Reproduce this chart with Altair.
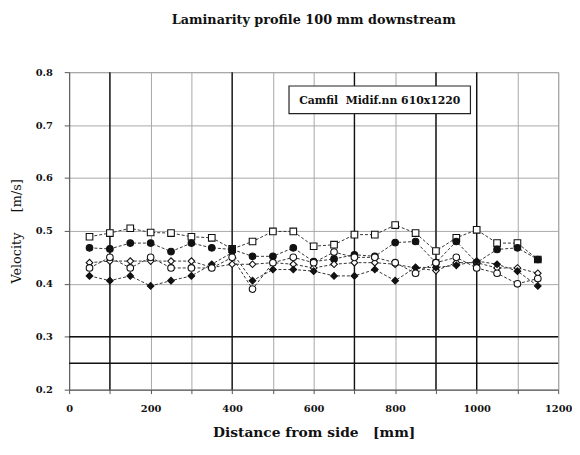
import altair as alt
import pandas as pd

distance = [50, 100, 150, 200, 250, 300, 350, 400, 450, 500, 550, 600,
            650, 700, 750, 800, 850, 900, 950, 1000, 1050, 1100, 1150]

series_squares = [0.489, 0.496, 0.505, 0.497, 0.496, 0.489, 0.487, 0.466, 0.480, 0.499, 0.499, 0.471,
                  0.474, 0.493, 0.493, 0.511, 0.496, 0.462, 0.487, 0.502, 0.477, 0.477, 0.446]
series_dots = [0.468, 0.466, 0.477, 0.477, 0.461, 0.477, 0.468, 0.465, 0.452, 0.452, 0.468, 0.442,
               0.447, 0.455, 0.452, 0.478, 0.480, 0.440, 0.480, 0.440, 0.465, 0.468, 0.446]
series_diamonds = [0.440, 0.443, 0.443, 0.443, 0.443, 0.443, 0.431, 0.437, 0.437, 0.440, 0.437, 0.430,
                   0.437, 0.440, 0.440, 0.437, 0.430, 0.425, 0.440, 0.440, 0.430, 0.430, 0.420]
series_lowdots = [0.415, 0.406, 0.415, 0.396, 0.406, 0.415, 0.437, 0.459, 0.406, 0.427, 0.427, 0.424,
                  0.415, 0.415, 0.427, 0.406, 0.431, 0.431, 0.435, 0.443, 0.437, 0.424, 0.396]
series_rings = [0.430, 0.450, 0.430, 0.450, 0.430, 0.430, 0.430, 0.450, 0.390, 0.440, 0.450, 0.440,
                0.460, 0.450, 0.450, 0.440, 0.420, 0.440, 0.450, 0.430, 0.420, 0.400, 0.410]

series_names = ["s1", "s2", "s3", "s4", "s5"]
series_values = [series_squares, series_dots, series_diamonds, series_lowdots, series_rings]

dark_grid_x = [100, 400, 700, 900, 1000]
dark_grid_y = [0.25, 0.3]

NB = "\u00a0"
legend_text = "Camfil" + NB + NB + "Midif.nn 610x1220"
title_text = "Laminarity profile 100 mm downstream"
x_title = "Distance from side" + NB * 3 + "[mm]"
y_title = "Velocity" + NB * 5 + "[m/s]"

rows = []
for name, vals in zip(series_names, series_values):
    for d, v in zip(distance, vals):
        rows.append({"series": name, "distance": d, "velocity": v})
df = pd.DataFrame(rows)

styles = {
    "s1": ("square", False),
    "s2": ("circle", True),
    "s3": ("diamond", False),
    "s4": ("diamond", True),
    "s5": ("circle", False),
}

FONT = "DejaVu Serif"

xscale = alt.Scale(domain=[0, 1200], nice=False, zero=False)
yscale = alt.Scale(domain=[0.2, 0.8], nice=False, zero=False)

xaxis = alt.Axis(values=list(range(0, 1201, 100)),
                 labelExpr="datum.value % 200 == 0 ? datum.label : ''",
                 format="d", title=x_title, labelOverlap=False, labelFlush=False,
                 grid=True, gridColor="#a8a8a8", gridWidth=1,
                 domainColor="#555", tickColor="#555", tickSize=4,
                 labelPadding=10, titlePadding=12, titleFontSize=14)
yaxis = alt.Axis(values=[0.2, 0.25, 0.3, 0.35, 0.4, 0.45, 0.5, 0.55, 0.6, 0.65, 0.7, 0.75, 0.8],
                 labelExpr="round(datum.value*100) % 10 == 0 ? format(datum.value, '.1f') : ''",
                 title=y_title, labelOverlap=False,
                 grid=True, gridColor="#a8a8a8", gridWidth=1,
                 domainColor="#555", tickColor="#555", tickSize=5,
                 labelPadding=12, titlePadding=12, titleFontSize=13, titleFontWeight="normal")

base_grid = alt.Chart(df).mark_point(opacity=0).encode(
    x=alt.X("distance:Q", scale=xscale, axis=xaxis),
    y=alt.Y("velocity:Q", scale=yscale, axis=yaxis),
)

dark_x = alt.Chart(pd.DataFrame({"gx": dark_grid_x})).mark_rule(color="#111", strokeWidth=1.4).encode(
    x=alt.X("gx:Q", scale=xscale)
)
dark_y = alt.Chart(pd.DataFrame({"gy": dark_grid_y})).mark_rule(color="#111", strokeWidth=1.4).encode(
    y=alt.Y("gy:Q", scale=yscale)
)

layers = [base_grid, dark_x, dark_y]
for name in series_names:
    shape, filled = styles[name]
    sub = df[df.series == name]
    line = alt.Chart(sub).mark_line(color="#333", strokeDash=[3, 2], strokeWidth=1).encode(
        x=alt.X("distance:Q", scale=xscale),
        y=alt.Y("velocity:Q", scale=yscale),
    )
    pts = alt.Chart(sub).mark_point(
        shape=shape, filled=True, size=45,
        fill="#111" if filled else "white", stroke="#111", strokeWidth=1.1, opacity=1
    ).encode(
        x=alt.X("distance:Q", scale=xscale),
        y=alt.Y("velocity:Q", scale=yscale),
    )
    layers += [line, pts]

legend_box = alt.Chart(pd.DataFrame({"t": [legend_text]})).mark_rect(
    fill="white", stroke="#222", strokeWidth=1.2
).encode(x=alt.value(223), x2=alt.value(407), y=alt.value(14), y2=alt.value(42))
legend_label = alt.Chart(pd.DataFrame({"t": [legend_text]})).mark_text(
    font=FONT, fontSize=11, fontWeight="bold", color="#111"
).encode(x=alt.value(315), y=alt.value(29), text="t:N")

chart = alt.layer(*layers, legend_box, legend_label).properties(
    width=496, height=322,
    title=alt.TitleParams(title_text, font=FONT, fontSize=13, fontWeight="bold",
                          anchor="middle", offset=41, color="#111"),
    padding={"left": 62, "top": 62, "right": 14, "bottom": 50},
    autosize=alt.AutoSizeParams(type="none"),
).configure_axis(
    labelFont=FONT, labelFontSize=10, labelFontWeight="bold", labelColor="#111",
    titleFont=FONT, titleFontWeight="bold", titleColor="#111",
).configure_view(stroke="#999")

chart.save("out.html", embed_options={"renderer": "svg", "actions": False})
